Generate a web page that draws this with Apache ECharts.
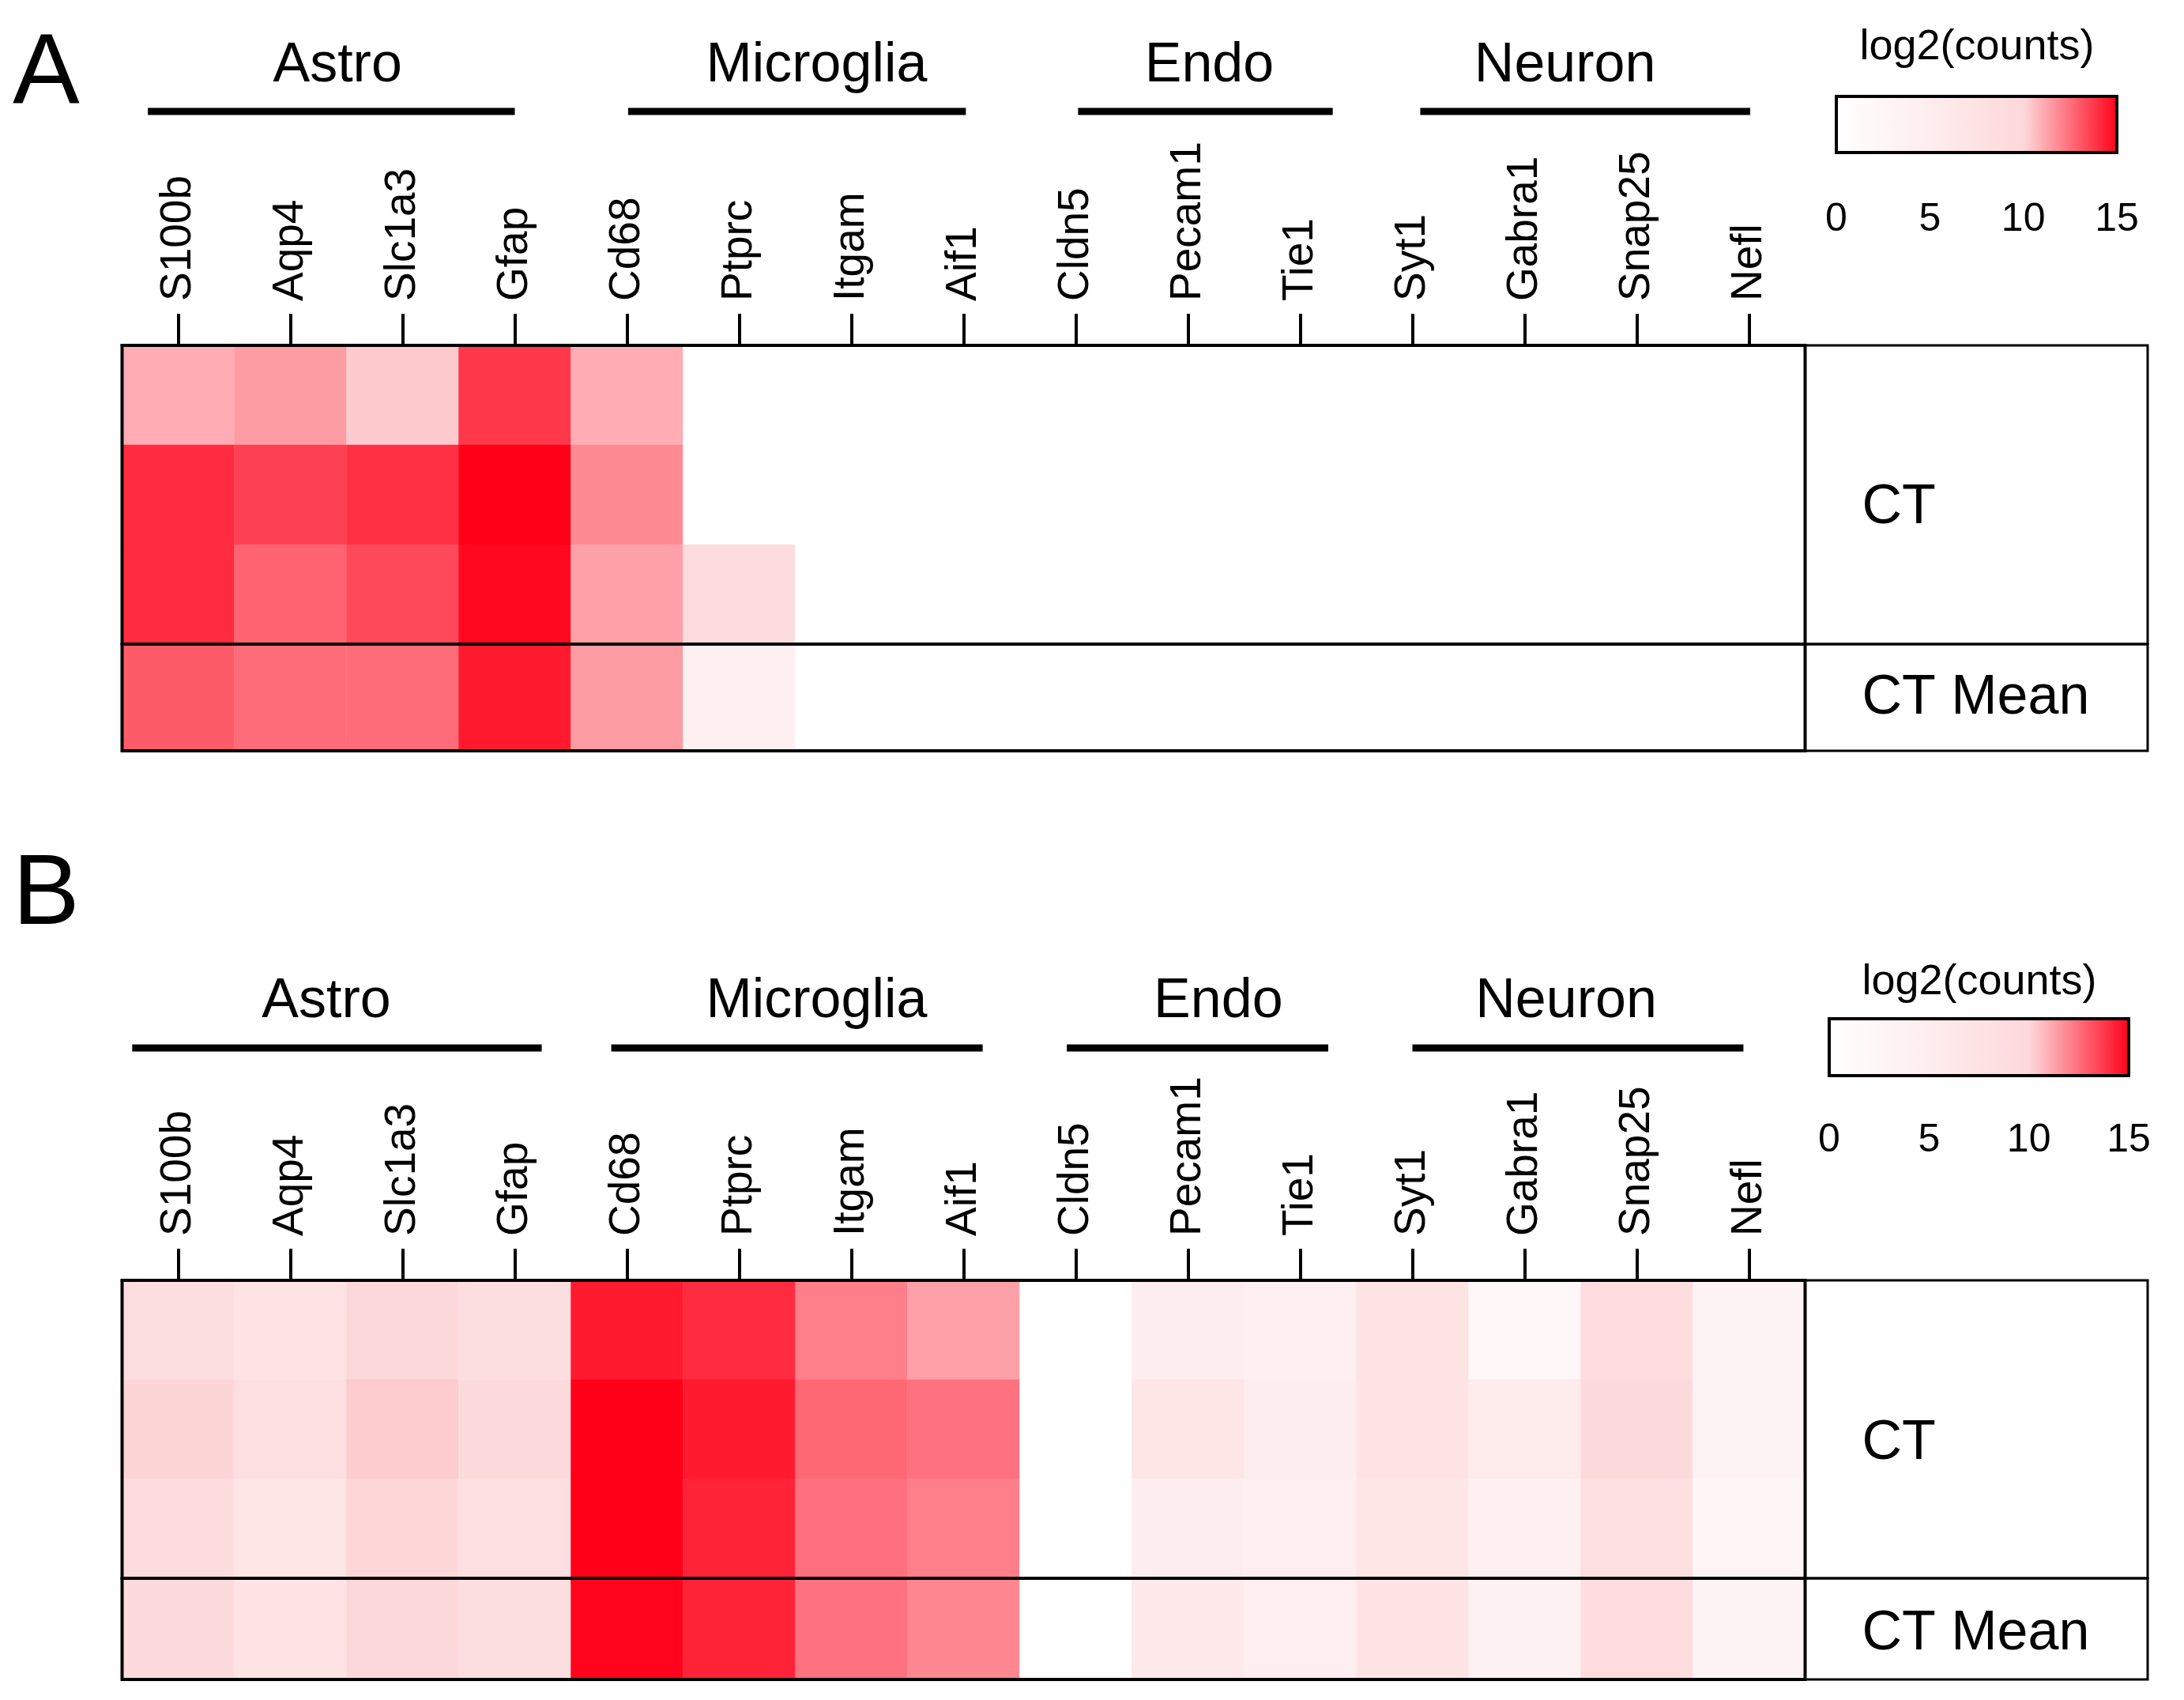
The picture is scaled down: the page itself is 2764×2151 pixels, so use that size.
<!DOCTYPE html>
<html><head><meta charset="utf-8">
<script src="https://cdn.jsdelivr.net/npm/echarts@6/dist/echarts.min.js"></script>
<style>html,body{margin:0;padding:0;background:#fff}#chart{width:2764px;height:2151px}</style>
</head><body><div id="chart"></div>
<script>
// ---------------- DATA ----------------
const genes = ['S100b','Aqp4','Slc1a3','Gfap','Cd68','Ptprc','Itgam','Aif1','Cldn5','Pecam1','Tie1','Syt1','Gabra1','Snap25','Nefl'];
const groupNames = ['Astro','Microglia','Endo','Neuron'];
const groupSizes = [4, 4, 3, 4];
const sampleRows = ['CT 1','CT 2','CT 3'];
const meanRow = ['CT Mean'];
const rowLabels = ['CT', 'CT Mean'];
const panelLetters = ['A', 'B'];
const colorbarTitle = 'log2(counts)';
const colorTicks = [0, 5, 10, 15];

// panel A  (log2 counts)
const aCT = [
  [11.0, 11.4, 10.3, 13.7, 11.0, 0,   0, 0, 0, 0, 0, 0, 0, 0, 0],
  [14.0, 13.5, 13.9, 15.0, 11.8, 0,   0, 0, 0, 0, 0, 0, 0, 0, 0],
  [14.0, 12.7, 13.3, 14.8, 11.3, 9.1, 0, 0, 0, 0, 0, 0, 0, 0, 0]
];
const aMean = [12.9, 12.5, 12.5, 14.4, 11.4, 4.2, 0, 0, 0, 0, 0, 0, 0, 0, 0];

// panel B
const bCT = [
  [8.6, 7.4, 9.9,  8.6, 14.4, 14.0, 12.05, 11.3,  0, 5.0, 4.4, 7.4, 2.1, 8.8, 3.2],
  [10.07, 8.3, 10.28, 9.3, 15.0, 14.4, 12.6, 12.35, 0, 6.9, 5.0, 7.4, 5.5, 9.3, 3.2],
  [9.05, 6.9, 10.05, 8.3, 15.0, 14.2, 12.4, 12.05, 0, 5.0, 4.7, 6.9, 4.4, 8.3, 2.6]
];
const bMean = [9.2, 7.5, 10.0, 8.6, 14.9, 14.2, 12.35, 11.9, 0, 5.7, 4.7, 7.2, 4.0, 8.8, 3.0];

const panelCT = [aCT, bCT];
const panelMean = [aMean, bMean];

// ---------------- STYLE / LAYOUT ----------------
const FONT = 'Liberation Sans, Arial, Helvetica, sans-serif';
const RAMP = ['#ffffff', '#feedee', '#fdd8da', '#ff0018'];
const L = {
  left: 154.5, width: 2130, boxRight: 2718,
  panels: [
    { top: 437, ctH: 378, meanH: 135, letterY: 95, groupLabelY: 84, groupLineY: 141,
      cbar: { left: 2324, top: 122, width: 355, height: 71 }, cbarTitleX: 2502, cbarTitleY: 60,
      cbarLabelMargin: 60, ctLabelY: 643, meanLabelY: 884,
      spans: [[-0.27, 3.0], [4.01, 7.02], [8.02, 10.29], [11.07, 14.01]],
      labelPos: [1.42, 5.69, 9.19, 12.36] },
    { top: 1620, ctH: 377, meanH: 128, letterY: 1134, groupLabelY: 1268, groupLineY: 1326,
      cbar: { left: 2315, top: 1289, width: 379, height: 72 }, cbarTitleX: 2505, cbarTitleY: 1243,
      cbarLabelMargin: 57, ctLabelY: 1827, meanLabelY: 2068,
      spans: [[-0.41, 3.24], [3.86, 7.17], [7.92, 10.25], [11.0, 13.95]],
      labelPos: [1.32, 5.69, 9.27, 12.37] }
  ]
};

const chart = echarts.init(document.getElementById('chart'), null, { renderer: 'canvas' });

const grids = [], xAxes = [], yAxes = [], series = [];
const ctXAxisIdx = [];
L.panels.forEach((P, p) => {
  // CT grid
  const gCT = grids.length;
  grids.push({ left: L.left, top: P.top, width: L.width, height: P.ctH, show: true,
    borderColor: '#000', borderWidth: 4, backgroundColor: 'transparent', z: 10 });
  ctXAxisIdx.push(xAxes.length);
  xAxes.push({ type: 'category', gridIndex: gCT, data: genes, position: 'top', boundaryGap: true,
    axisLine: { show: true, lineStyle: { color: '#000', width: 4 } },
    axisTick: { show: true, alignWithLabel: true, length: 40, lineStyle: { color: '#000', width: 4 } },
    axisLabel: { rotate: -90, interval: 0, fontSize: 55, margin: 56, color: '#000', fontFamily: FONT,
      padding: [16, 0, 0, 0] },
    splitLine: { show: false }, splitArea: { show: false } });
  const xCT = xAxes.length - 1;
  yAxes.push({ type: 'category', gridIndex: gCT, data: sampleRows, inverse: true, show: false });
  const yCT = yAxes.length - 1;
  const dCT = [];
  panelCT[p].forEach((row, r) => row.forEach((v, c) => dCT.push([c, r, v])));
  series.push({ type: 'heatmap', xAxisIndex: xCT, yAxisIndex: yCT, data: dCT,
    emphasis: { disabled: true }, progressive: 0, itemStyle: { borderWidth: 0 } });

  // Mean grid
  const gM = grids.length;
  grids.push({ left: L.left, top: P.top + P.ctH, width: L.width, height: P.meanH, show: true,
    borderColor: '#000', borderWidth: 4, backgroundColor: 'transparent', z: 10 });
  xAxes.push({ type: 'category', gridIndex: gM, data: genes, show: false });
  const xM = xAxes.length - 1;
  yAxes.push({ type: 'category', gridIndex: gM, data: meanRow, show: false });
  const yM = yAxes.length - 1;
  series.push({ type: 'heatmap', xAxisIndex: xM, yAxisIndex: yM,
    data: panelMean[p].map((v, c) => [c, 0, v]),
    emphasis: { disabled: true }, progressive: 0, itemStyle: { borderWidth: 0 } });

  // Colorbar grid (legend)
  const gC = grids.length;
  const grad = new echarts.graphic.LinearGradient(0, 0, 1, 0,
    RAMP.map((c, i) => ({ offset: i / (RAMP.length - 1), color: c })));
  grids.push({ left: P.cbar.left, top: P.cbar.top, width: P.cbar.width, height: P.cbar.height,
    show: true, borderColor: '#000', borderWidth: 4, backgroundColor: grad, z: 10 });
  const tickStyle = { show: true, inside: true, length: 20, lineStyle: { color: '#000', width: 4 } };
  xAxes.push({ type: 'value', gridIndex: gC, min: colorTicks[0], max: colorTicks[colorTicks.length - 1],
    interval: colorTicks[1] - colorTicks[0], position: 'bottom',
    axisLine: { show: false }, splitLine: { show: false }, axisTick: tickStyle,
    axisLabel: { fontSize: 50, margin: P.cbarLabelMargin, color: '#000', fontFamily: FONT } });
  xAxes.push({ type: 'value', gridIndex: gC, min: colorTicks[0], max: colorTicks[colorTicks.length - 1],
    interval: colorTicks[1] - colorTicks[0], position: 'top',
    axisLine: { show: false }, splitLine: { show: false }, axisTick: tickStyle,
    axisLabel: { show: false } });
  yAxes.push({ type: 'value', gridIndex: gC, min: 0, max: 1, show: false });
});

chart.setOption({
  animation: false,
  backgroundColor: '#ffffff',
  textStyle: { fontFamily: FONT },
  grid: grids, xAxis: xAxes, yAxis: yAxes, series: series,
  visualMap: { type: 'continuous', show: false, min: colorTicks[0], max: colorTicks[colorTicks.length - 1],
    seriesIndex: series.map((s, i) => i), inRange: { color: RAMP } }
});

// annotations positioned from the axes
const graphics = [];
const txt = (text, x, y, size, align) => ({ type: 'text', z: 100, silent: true,
  style: { text: text, x: x, y: y, fontSize: size, fontFamily: FONT, fill: '#000',
    align: align || 'center', verticalAlign: 'middle' } });
L.panels.forEach((P, p) => {
  const p0 = chart.convertToPixel({ xAxisIndex: ctXAxisIdx[p] }, 0);
  const p1 = chart.convertToPixel({ xAxisIndex: ctXAxisIdx[p] }, 1);
  const px = i => p0 + (p1 - p0) * i;
  graphics.push(txt(panelLetters[p], 16, P.letterY, 127, 'left'));
  groupNames.forEach((g, gi) => {
    graphics.push(txt(g, px(P.labelPos[gi]), P.groupLabelY, 70));
    graphics.push({ type: 'line', z: 100, silent: true,
      shape: { x1: px(P.spans[gi][0]), y1: P.groupLineY, x2: px(P.spans[gi][1]), y2: P.groupLineY },
      style: { stroke: '#000', lineWidth: 9 } });
  });
  const bx = L.left + L.width;
  graphics.push({ type: 'rect', z: 100, silent: true,
    shape: { x: bx, y: P.top, width: L.boxRight - bx, height: P.ctH },
    style: { fill: 'transparent', stroke: '#000', lineWidth: 3 } });
  graphics.push({ type: 'rect', z: 100, silent: true,
    shape: { x: bx, y: P.top + P.ctH, width: L.boxRight - bx, height: P.meanH },
    style: { fill: 'transparent', stroke: '#000', lineWidth: 3 } });
  graphics.push(txt(rowLabels[0], bx + 72, P.ctLabelY, 70, 'left'));
  graphics.push(txt(rowLabels[1], bx + 72, P.meanLabelY, 70, 'left'));
  graphics.push(txt(colorbarTitle, P.cbarTitleX, P.cbarTitleY, 54));
});
chart.setOption({ graphic: graphics });
</script>
</body></html>
